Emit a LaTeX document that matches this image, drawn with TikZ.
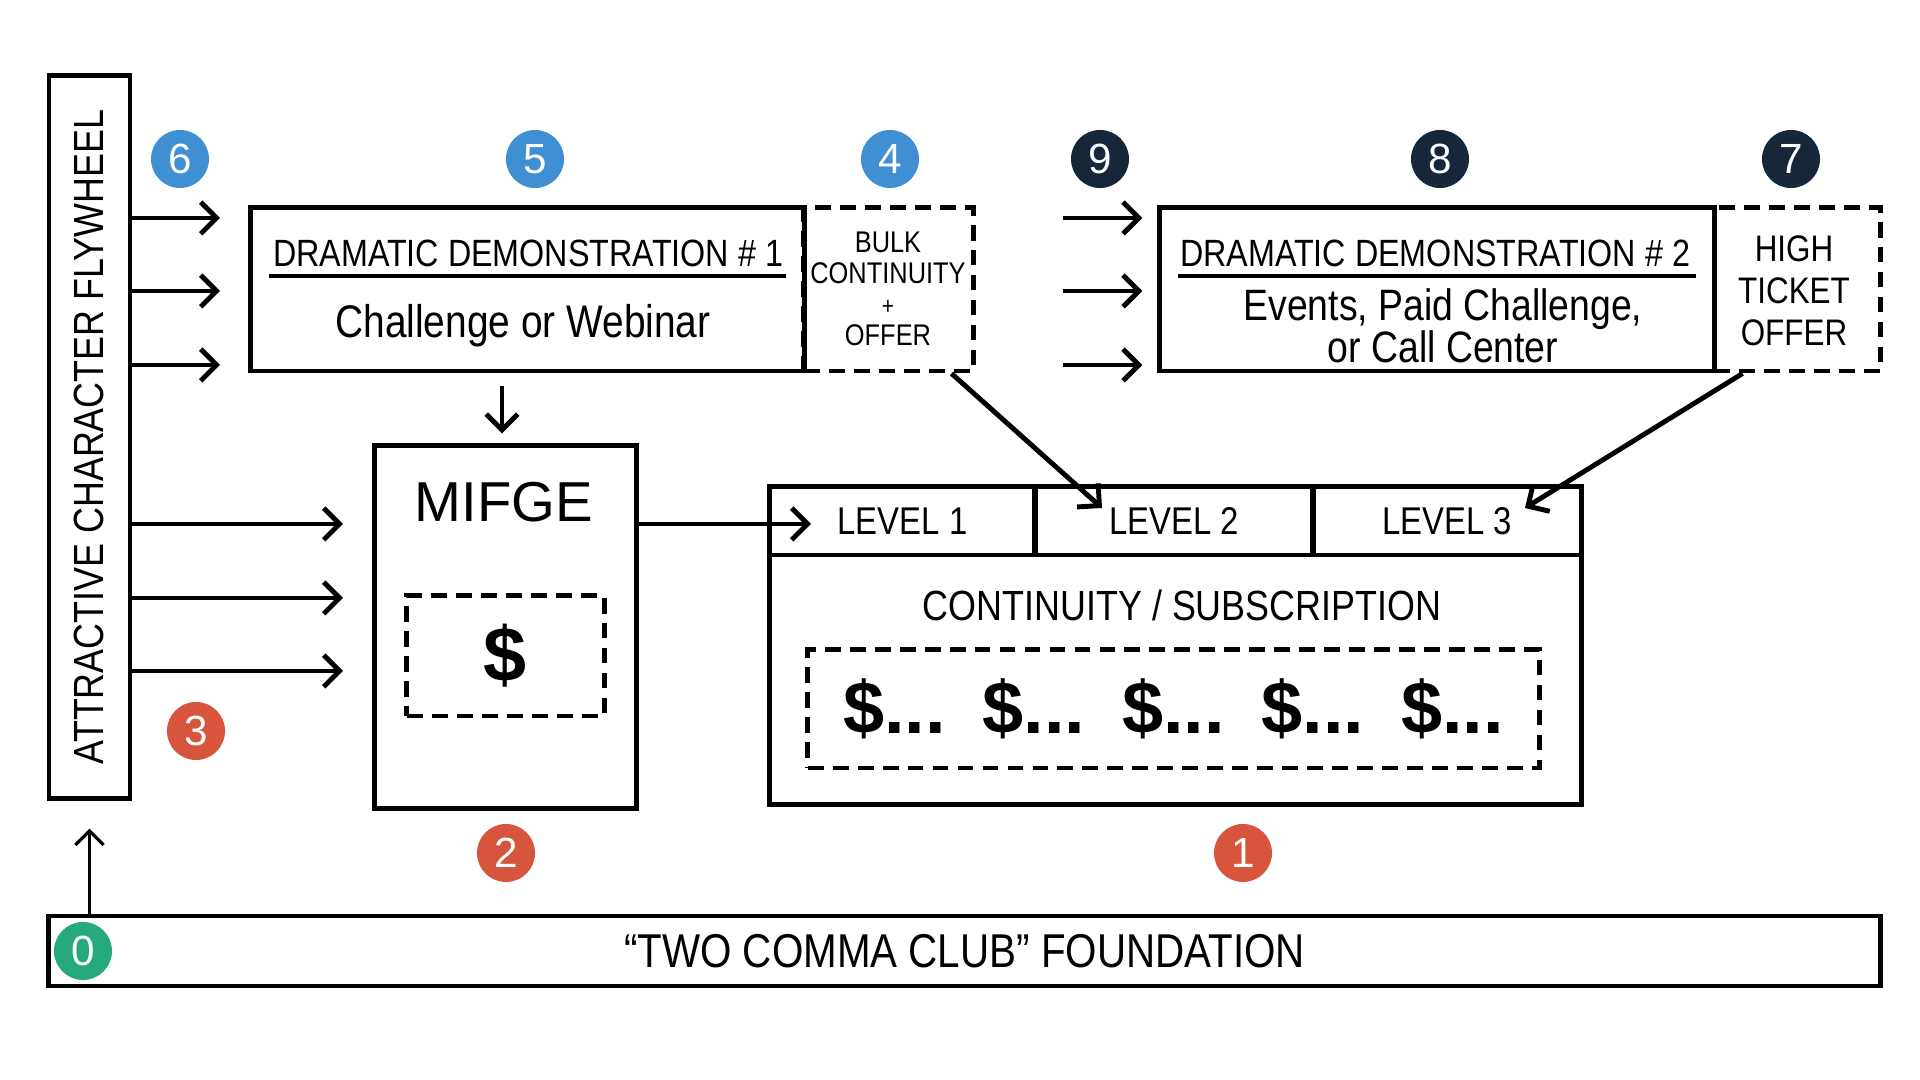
\documentclass[tikz,border=0pt]{standalone}
\usepackage{fontspec}
\usepackage{xcolor}
\usetikzlibrary{arrows.meta}

\newfontfamily\hand[FakeStretch=0.85]{Liberation Sans}
\newfontfamily\handwide{Liberation Sans}

\definecolor{badgeblue}{HTML}{3F8FD2}
\definecolor{badgenavy}{HTML}{172638}
\definecolor{badgered}{HTML}{D7553C}
\definecolor{badgegreen}{HTML}{27A97F}

\begin{document}
\begin{tikzpicture}[x=0.01cm, y=-0.01cm]
    % Define styles
    \tikzstyle{box}=[draw, line width=1.4pt, rectangle, inner sep=0pt]
    \tikzstyle{dashbox}=[draw, line width=1.4pt, dash pattern=on 4.5pt off 2.6pt, rectangle, inner sep=0pt]
    \tikzstyle{badge}=[circle, minimum size=0.58cm, inner sep=0pt, text=white, font=\handwide\fontsize{12}{12}\selectfont]
    \tikzstyle{arr}=[line width=1.4pt, -{Straight Barb[length=4.5pt, width=9pt]}]

    \useasboundingbox[fill=white] (0,0) rectangle (1920,1080);

    % Flywheel on the left
    \node[box, minimum width=0.81cm, minimum height=7.22cm] (fly_box) at (89.5,437) {};
    \node[rotate=90, font=\hand\fontsize{12}{12}\selectfont] (fly_label) at (89,437) {ATTRACTIVE CHARACTER FLYWHEEL};

    % Top row: dramatic demonstration #1 + bulk offer
    \node[dashbox, minimum width=1.69cm, minimum height=1.63cm] (bulk_box) at (888.5,289.5) {};
    \node[box, minimum width=5.53cm, minimum height=1.63cm] (dd1_box) at (527.5,289.5) {};
    \node[font=\hand\fontsize{10.8}{11}\selectfont] (dd1_title) at (528,253) {DRAMATIC DEMONSTRATION \# 1};
    \draw[line width=1.1pt] (269,276) -- (786,276);
    \node[font=\hand\fontsize{13}{13}\selectfont] (dd1_text) at (523,326) {Challenge or Webinar};
    \node[align=center, font=\hand\fontsize{8.5}{8.8}\selectfont] (bulk_text) at (888,289) {BULK\\CONTINUITY\\{\fontsize{7}{7}\selectfont +}\\OFFER};

    % Top row: dramatic demonstration #2 + high ticket offer
    \node[dashbox, minimum width=1.66cm, minimum height=1.63cm] (hto_box) at (1797,289.5) {};
    \node[box, minimum width=5.54cm, minimum height=1.63cm] (dd2_box) at (1437,289.5) {};
    \node[font=\hand\fontsize{10.8}{11}\selectfont] (dd2_title) at (1435,253) {DRAMATIC DEMONSTRATION \# 2};
    \draw[line width=1.1pt] (1178,276) -- (1696,276);
    \node[align=center, font=\hand\fontsize{12.5}{12}\selectfont] (dd2_text) at (1443,326) {Events, Paid Challenge,\\or Call Center};
    \node[align=center, font=\hand\fontsize{10.5}{12}\selectfont] (hto_text) at (1794,291) {HIGH\\TICKET\\OFFER};

    % MIFGE
    \node[box, minimum width=2.61cm, minimum height=3.62cm] (mifge_box) at (505.5,627) {};
    \node[font=\handwide\fontsize{16}{16}\selectfont] (mifge_label) at (504,502) {MIFGE};
    \node[dashbox, minimum width=1.97cm, minimum height=1.2cm, font=\handwide\bfseries\fontsize{22}{22}\selectfont] (mifge_cash) at (505.5,656) {\$};

    % Continuity / subscription
    \node[box, minimum width=8.11cm, minimum height=3.17cm] (cont_box) at (1175.5,645.5) {};
    \node[box, minimum width=2.65cm, minimum height=0.68cm, font=\hand\fontsize{11}{11}\selectfont] (lvl1) at (902.5,521) {LEVEL 1};
    \node[box, minimum width=2.78cm, minimum height=0.68cm, font=\hand\fontsize{11}{11}\selectfont] (lvl2) at (1174,521) {LEVEL 2};
    \node[box, minimum width=2.68cm, minimum height=0.68cm, font=\hand\fontsize{11}{11}\selectfont] (lvl3) at (1447,521) {LEVEL 3};
    \node[font=\hand\fontsize{12}{12}\selectfont] (cont_label) at (1182,605) {CONTINUITY / SUBSCRIPTION};
    \node[dashbox, minimum width=7.31cm, minimum height=1.18cm, font=\handwide\bfseries\fontsize{21}{21}\selectfont] (cont_cash) at (1173.5,709) {\$...\hspace{0.5em}\$...\hspace{0.5em}\$...\hspace{0.5em}\$...\hspace{0.5em}\$...};

    % Foundation
    \node[box, minimum width=18.31cm, minimum height=0.7cm, font=\hand\fontsize{13.5}{13.5}\selectfont] (found_box) at (964.5,951) {“TWO COMMA CLUB” FOUNDATION};

    % Arrow ends
    \coordinate (fw_dd1_a) at (220,218);
    \coordinate (fw_dd1_b) at (220,291);
    \coordinate (fw_dd1_c) at (220,365);
    \coordinate (fw_mifge_a) at (343,524);
    \coordinate (fw_mifge_b) at (343,598);
    \coordinate (fw_mifge_c) at (343,671);
    \coordinate (dd2_in_a) at (1063,218);
    \coordinate (dd2_in_b) at (1063,291);
    \coordinate (dd2_in_c) at (1063,365);
    \coordinate (lvl1_in) at (811,524);
    \coordinate (lvl2_in) at (1102,508);
    \coordinate (lvl3_in) at (1525,508);

    % Arrows
    \draw[arr] (fly_box.east |- fw_dd1_a) -- (fw_dd1_a);
    \draw[arr] (fly_box.east |- fw_dd1_b) -- (fw_dd1_b);
    \draw[arr] (fly_box.east |- fw_dd1_c) -- (fw_dd1_c);
    \draw[arr] (fly_box.east |- fw_mifge_a) -- (fw_mifge_a);
    \draw[arr] (fly_box.east |- fw_mifge_b) -- (fw_mifge_b);
    \draw[arr] (fly_box.east |- fw_mifge_c) -- (fw_mifge_c);
    \draw[arr, shorten >=1.5mm] (dd2_in_a) -- (dd2_box.west |- dd2_in_a);
    \draw[arr, shorten >=1.5mm] (dd2_in_b) -- (dd2_box.west |- dd2_in_b);
    \draw[arr, shorten >=1.5mm] (dd2_in_c) -- (dd2_box.west |- dd2_in_c);
    \draw[arr, shorten <=1.2mm, shorten >=1mm] ([xshift=-0.35mm]mifge_box.north |- dd1_box.south) -- ([xshift=-0.35mm]mifge_box.north);
    \draw[arr] (mifge_box.east |- lvl1_in) -- (lvl1_in);
    \draw[arr] ([xshift=-2.4mm]bulk_box.south east) -- (lvl2_in);
    \draw[arr] ([xshift=3.1mm]hto_box.south west) -- (lvl3_in);
    \draw[line width=0.9pt, -{Straight Barb[length=4pt, width=8pt]}, shorten >=2.8mm] (fly_box.south |- found_box.north) -- (fly_box.south);

    % Numbered badges
    \node[badge, fill=badgeblue] (badge6) at (180,159) {6};
    \node[badge, fill=badgeblue] (badge5) at (535,159) {5};
    \node[badge, fill=badgeblue] (badge4) at (890,159) {4};
    \node[badge, fill=badgenavy] (badge9) at (1100,159) {9};
    \node[badge, fill=badgenavy] (badge8) at (1440,159) {8};
    \node[badge, fill=badgenavy] (badge7) at (1791,159) {7};
    \node[badge, fill=badgered] (badge3) at (196,731) {3};
    \node[badge, fill=badgered] (badge2) at (506,853) {2};
    \node[badge, fill=badgered] (badge1) at (1243,853) {1};
    \node[badge, fill=badgegreen] (badge0) at (83,951) {0};
\end{tikzpicture}
\end{document}
